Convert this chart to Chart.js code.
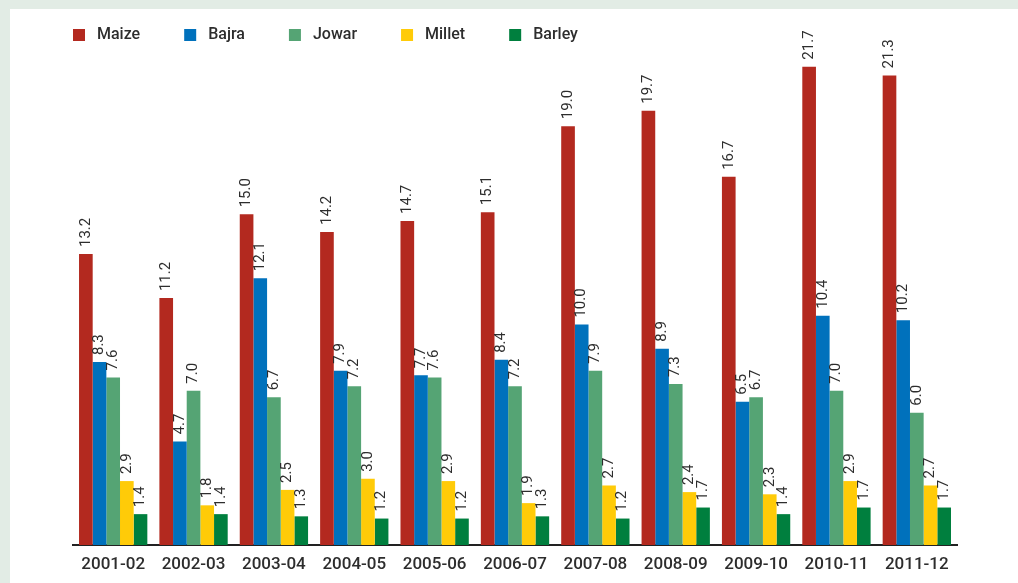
<!DOCTYPE html>
<html>
<head>
<meta charset="utf-8">
<script src="https://cdn.jsdelivr.net/npm/chart.js@4.4.1/dist/chart.umd.min.js"></script>
<style>
  html, body { margin: 0; padding: 0; background: #e2ece5; }
  #frame { position: absolute; left: 10px; top: 9px; width: 1008px; height: 574px; background: #ffffff; }
  canvas { display: block; }
</style>
</head>
<body>
<div id="frame"><canvas id="chart" width="1008" height="574"></canvas></div>
<script>
// Crop years
const years = ['2001-02', '2002-03', '2003-04', '2004-05', '2005-06', '2006-07',
               '2007-08', '2008-09', '2009-10', '2010-11', '2011-12'];

// Production by crop
const maize  = [13.2, 11.2, 15.0, 14.2, 14.7, 15.1, 19.0, 19.7, 16.7, 21.7, 21.3];
const bajra  = [8.3, 4.7, 12.1, 7.9, 7.7, 8.4, 10.0, 8.9, 6.5, 10.4, 10.2];
const jowar  = [7.6, 7.0, 6.7, 7.2, 7.6, 7.2, 7.9, 7.3, 6.7, 7.0, 6.0];
const millet = [2.9, 1.8, 2.5, 3.0, 2.9, 1.9, 2.7, 2.4, 2.3, 2.9, 2.7];
const barley = [1.4, 1.4, 1.3, 1.2, 1.2, 1.3, 1.2, 1.7, 1.4, 1.7, 1.7];

const cropNames = ['Maize', 'Bajra', 'Jowar', 'Millet', 'Barley'];
const cropColors = ['#b3291f', '#0071bc', '#55a474', '#ffcb08', '#007f3e'];
const cropValues = [maize, bajra, jowar, millet, barley];

const TEXT = '#2d2d2d';

// Value labels written vertically above each bar
const barValueLabels = {
  id: 'barValueLabels',
  afterDatasetsDraw(chart) {
    const ctx = chart.ctx;
    ctx.save();
    ctx.fillStyle = TEXT;
    ctx.font = '15px Roboto';
    ctx.textAlign = 'left';
    ctx.textBaseline = 'middle';
    chart.data.datasets.forEach((ds, di) => {
      const meta = chart.getDatasetMeta(di);
      meta.data.forEach((bar, i) => {
        ctx.save();
        ctx.translate(bar.x, bar.y - 7);
        ctx.rotate(-Math.PI / 2);
        ctx.fillText(ds.data[i].toFixed(1), 0, 0);
        ctx.restore();
      });
    });
    ctx.restore();
  }
};

// Single-row legend along the top edge
const topLegend = {
  id: 'topLegend',
  afterDraw(chart) {
    const ctx = chart.ctx;
    ctx.save();
    ctx.font = '500 16px Roboto';
    ctx.textBaseline = 'middle';
    ctx.textAlign = 'left';
    let x = chart.chartArea.left;
    const y = 20;
    chart.data.datasets.forEach(ds => {
      ctx.fillStyle = ds.backgroundColor;
      ctx.fillRect(x, y, 12, 12);
      ctx.fillStyle = TEXT;
      ctx.fillText(ds.label, x + 24, y + 6);
      x += 24 + ctx.measureText(ds.label).width + 44;
    });
    ctx.restore();
  }
};

new Chart(document.getElementById('chart'), {
  type: 'bar',
  data: {
    labels: years,
    datasets: cropNames.map((name, k) => ({
      label: name,
      data: cropValues[k],
      backgroundColor: cropColors[k],
      borderWidth: 0,
      categoryPercentage: 0.85,
      barPercentage: 1.0
    }))
  },
  options: {
    responsive: false,
    animation: false,
    layout: { padding: { left: 63, right: 61, top: 29, bottom: 0 } },
    plugins: {
      legend: { display: false },
      tooltip: { enabled: false }
    },
    scales: {
      x: {
        grid: { display: false, drawTicks: false },
        border: { display: true, color: '#222222', width: 2 },
        ticks: {
          color: TEXT,
          font: { family: 'Roboto', size: 17, weight: '500' },
          padding: 10,
          maxRotation: 0
        },
        afterFit(scale) { scale.height = 38; }
      },
      y: {
        display: false,
        min: 0,
        max: 23
      }
    }
  },
  plugins: [barValueLabels, topLegend]
});
</script>
</body>
</html>
